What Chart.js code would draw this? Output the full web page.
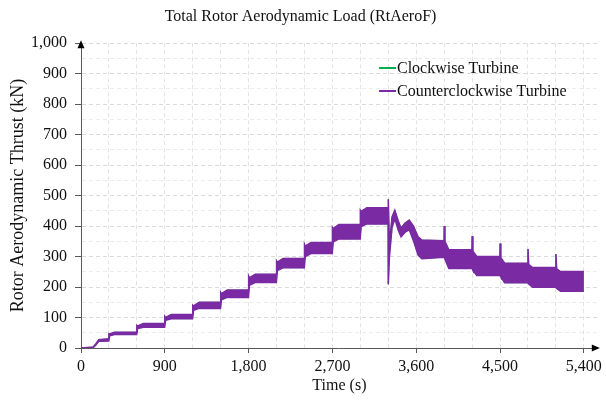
<!DOCTYPE html>
<html>
<head>
<meta charset="utf-8">
<title>Total Rotor Aerodynamic Load</title>
<script src="https://cdn.jsdelivr.net/npm/chart.js@4.4.1/dist/chart.umd.min.js"></script>
<style>
  html, body { margin: 0; padding: 0; background: #fff; }
</style>
</head>
<body>
<canvas id="myChart" width="606" height="403"></canvas>
<script>
// simulation time (s) and the upper / lower edge of the oscillating thrust band (kN)
var timeS = [
    0, 130, 160, 190, 298, 300, 308, 360, 598, 600, 608, 670,
    898, 900, 908, 970, 1198, 1200, 1208, 1270, 1498, 1500, 1508, 1570,
    1798, 1800, 1808, 1870, 2098, 2100, 2108, 2170, 2398, 2400, 2408, 2470,
    2698, 2700, 2708, 2770, 2998, 3000, 3008, 3070, 3298, 3300, 3312, 3340,
    3370, 3405, 3437, 3480, 3525, 3570, 3620, 3660, 3898, 3900, 3908, 3950,
    4198, 4200, 4208, 4250, 4498, 4500, 4508, 4550, 4798, 4800, 4808, 4850,
    5098, 5100, 5108, 5150, 5400
];
var ccwUpper = [
    0, 3, 14, 27, 30, 47, 46, 52, 52, 74, 72, 80,
    80, 104, 100, 110, 110, 140, 138, 150, 150, 182, 178, 190,
    190, 236, 230, 242, 242, 286, 282, 294, 294, 340, 334, 346,
    346, 396, 392, 405, 405, 452, 448, 460, 460, 488, 340, 430,
    452, 418, 394, 410, 420, 400, 365, 354, 352, 400, 350, 322,
    322, 367, 318, 300, 300, 343, 296, 278, 278, 325, 274, 264,
    264, 308, 260, 251, 251
];
var ccwLower = [
    0, 1, 10, 22, 23, 23, 40, 44, 44, 44, 64, 68,
    68, 68, 91, 96, 96, 96, 124, 130, 130, 130, 158, 166,
    166, 166, 206, 215, 215, 215, 254, 263, 263, 263, 300, 310,
    310, 310, 348, 358, 358, 358, 398, 407, 407, 209, 300, 395,
    425, 388, 365, 380, 388, 352, 305, 293, 298, 298, 292, 261,
    261, 261, 255, 238, 238, 238, 233, 214, 214, 214, 210, 199,
    199, 199, 195, 186, 186
];
// the clockwise turbine trace lies underneath the counterclockwise one
var cwUpper = ccwUpper;
var cwLower = ccwLower;

var xTicks = [0, 900, 1800, 2700, 3600, 4500, 5400];
var yTicks = [0, 100, 200, 300, 400, 500, 600, 700, 800, 900, 1000];

var GREEN = '#00B050';
var PURPLE = '#7A2AA2';
var FONT = "'Liberation Serif', 'Times New Roman', serif";

function toPoints(ys) {
    return timeS.map(function (t, i) { return { x: t, y: ys[i] }; });
}

// order: lower number is painted last (on top)
function bandSet(label, ys, color, fill, order, width) {
    return {
        label: label,
        data: toPoints(ys),
        borderColor: color,
        backgroundColor: color,
        borderWidth: width,
        pointRadius: 0,
        tension: 0,
        fill: fill,
        order: order
    };
}

// arrow heads on both axes
var axisArrows = {
    id: 'axisArrows',
    afterDraw: function (chart) {
        var ctx = chart.ctx, a = chart.chartArea;
        ctx.save();
        ctx.fillStyle = '#000';
        ctx.beginPath();
        ctx.moveTo(a.left, a.top - 3);
        ctx.lineTo(a.left - 3.5, a.top + 5);
        ctx.lineTo(a.left + 3.5, a.top + 5);
        ctx.closePath();
        ctx.fill();
        ctx.beginPath();
        ctx.moveTo(a.right + 2, a.bottom);
        ctx.lineTo(a.right - 6, a.bottom - 3.5);
        ctx.lineTo(a.right - 6, a.bottom + 3.5);
        ctx.closePath();
        ctx.fill();
        ctx.restore();
    }
};

// legend sits inside the plot, top right
var insideLegend = {
    id: 'insideLegend',
    afterDraw: function (chart) {
        var ctx = chart.ctx;
        var items = [chart.data.datasets[0], chart.data.datasets[2]];
        ctx.save();
        ctx.font = '16px ' + FONT;
        ctx.textBaseline = 'middle';
        items.forEach(function (ds, i) {
            var y = 68 + i * 23;
            ctx.strokeStyle = ds.borderColor;
            ctx.lineWidth = 2;
            ctx.beginPath();
            ctx.moveTo(379, y);
            ctx.lineTo(396, y);
            ctx.stroke();
            ctx.fillStyle = '#111';
            ctx.fillText(ds.label, 397, y + 1);
        });
        ctx.restore();
    }
};

var ctx = document.getElementById('myChart').getContext('2d');
var myChart = new Chart(ctx, {
    type: 'line',
    data: {
        datasets: [
            bandSet('Clockwise Turbine', cwUpper, GREEN, false, 2, 0.5),
            bandSet('Clockwise Turbine (min)', cwLower, GREEN, '-1', 2, 0.5),
            bandSet('Counterclockwise Turbine', ccwUpper, PURPLE, false, 1, 1.5),
            bandSet('Counterclockwise Turbine (min)', ccwLower, PURPLE, '-1', 1, 1.5)
        ]
    },
    options: {
        responsive: false,
        animation: false,
        layout: { padding: { left: 0, right: 5, top: 0, bottom: 0 } },
        plugins: {
            legend: { display: false },
            tooltip: { enabled: false },
            title: {
                display: true,
                text: 'Total Rotor Aerodynamic Load (RtAeroF)',
                color: '#111',
                font: { family: FONT, size: 16, weight: 'normal' },
                padding: { top: 7, bottom: 17 }
            }
        },
        scales: {
            x: {
                type: 'linear',
                min: 0,
                max: 5550,
                afterBuildTicks: function (scale) {
                    var t = [];
                    for (var v = 0; v <= 5400; v += 300) t.push({ value: v });
                    scale.ticks = t;
                },
                afterFit: function (scale) { scale.height = 55; },
                ticks: {
                    autoSkip: false,
                    maxRotation: 0,
                    padding: 4,
                    color: '#111',
                    font: { family: FONT, size: 16 },
                    callback: function (v) {
                        return xTicks.indexOf(v) >= 0 ? v.toLocaleString('en-US') : '';
                    }
                },
                grid: {
                    color: '#e3e3e3',
                    tickLength: 5,
                    tickColor: function (c) {
                        return xTicks.indexOf(c.tick.value) >= 0 ? '#595959' : 'rgba(0,0,0,0)';
                    }
                },
                border: { color: '#595959', width: 1, dash: [4, 3] },
                title: {
                    display: true,
                    text: 'Time (s)',
                    color: '#111',
                    font: { family: FONT, size: 16 },
                    padding: { top: 0, bottom: 8 }
                }
            },
            y: {
                min: 0,
                max: 1000,
                afterBuildTicks: function (scale) {
                    var t = [];
                    for (var v = 0; v <= 1000; v += 50) t.push({ value: v });
                    scale.ticks = t;
                },
                afterFit: function (scale) { scale.width = 81; },
                ticks: {
                    autoSkip: false,
                    padding: 8,
                    color: '#111',
                    font: { family: FONT, size: 16 },
                    callback: function (v) {
                        return yTicks.indexOf(v) >= 0 ? v.toLocaleString('en-US') : '';
                    }
                },
                grid: {
                    color: function (c) {
                        return c.tick.value % 100 === 0 ? '#dadada' : '#ececec';
                    },
                    tickLength: 6,
                    tickColor: function (c) {
                        return c.tick.value % 100 === 0 ? '#595959' : 'rgba(0,0,0,0)';
                    }
                },
                border: { color: '#595959', width: 1, dash: [4, 3] },
                title: {
                    display: true,
                    text: 'Rotor Aerodynamic Thrust (kN)',
                    color: '#111',
                    font: { family: FONT, size: 18 },
                    padding: { top: 7, bottom: 0 }
                }
            }
        }
    },
    plugins: [axisArrows, insideLegend]
});
</script>
</body>
</html>
